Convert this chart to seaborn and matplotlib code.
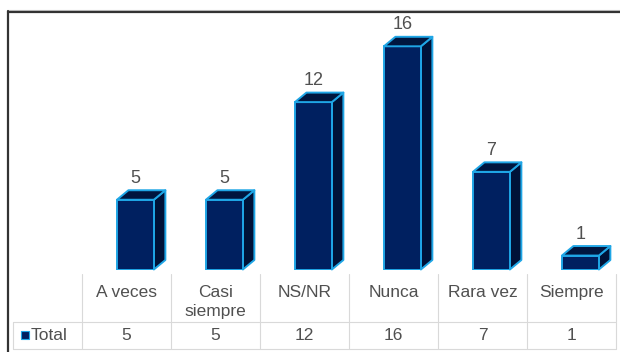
import matplotlib
matplotlib.use("Agg")
import matplotlib.pyplot as plt
from matplotlib.patches import Polygon, Rectangle
from matplotlib.lines import Line2D
import seaborn as sns
import pandas as pd

categories = ["A veces", "Casi\nsiempre", "NS/NR", "Nunca", "Rara vez", "Siempre"]
values = [5, 5, 12, 16, 7, 1]
series_name = "Total"

W, H = 620, 352
FRONT = "#002060"
SIDE = "#001238"
TOP = "#00163f"
EDGE = "#1fa6e6"
TEXT = "#505050"
GRID = "#d9d9d9"

sns.set_theme(style="white")
plt.rcParams["font.family"] = ["Liberation Sans", "DejaVu Sans"]

fig = plt.figure(figsize=(W / 100, H / 100), dpi=100)
fig.patch.set_facecolor("white")


def fx(px):
    return px / W


def fy(py):
    return 1 - py / H


# plot area: six table columns of 89 px starting at x=82, baseline at y=269.5
col_left, col_w = 82, 89
base_y, top_y = 269.5, 12
px_per_unit = 13.95
ax = fig.add_axes([fx(col_left), fy(base_y), (6 * col_w) / W, (base_y - top_y) / H])

df = pd.DataFrame({"cat": categories, "val": values})
sns.barplot(data=df, x="cat", y="val", ax=ax, color=FRONT, width=0.415,
            saturation=1, edgecolor=EDGE, linewidth=1.4, zorder=3)
ax.set_xlim(-0.6, 5.4)
ax.set_ylim(0, (base_y - top_y) / px_per_unit)
ax.axis("off")

# depth of the 3D boxes in data units
dx = 11.5 / col_w
dy = 9.5 / px_per_unit
for patch, v in zip(list(ax.patches), values):
    x0, w, h = patch.get_x(), patch.get_width(), patch.get_height()
    side = Polygon([(x0 + w, 0), (x0 + w + dx, dy), (x0 + w + dx, h + dy), (x0 + w, h)],
                   closed=True, facecolor=SIDE, edgecolor=EDGE, linewidth=1.4,
                   zorder=2, clip_on=False, joinstyle="round")
    top = Polygon([(x0, h), (x0 + w, h), (x0 + w + dx, h + dy), (x0 + dx, h + dy)],
                  closed=True, facecolor=TOP, edgecolor=EDGE, linewidth=1.4,
                  zorder=4, clip_on=False, joinstyle="round")
    ax.add_patch(side)
    ax.add_patch(top)
    ax.annotate(f"{v}", (x0 + w / 2, h + dy), xytext=(0, 2.5), textcoords="offset points",
                ha="center", va="bottom", fontsize=13, color=TEXT, zorder=5,
                annotation_clip=False)

# outer chart frame
fig.add_artist(Line2D([fx(8), fx(W)], [fy(10), fy(10)], color="#c8c8c8", lw=0.8))
fig.add_artist(Line2D([fx(8), fx(W + 2)], [fy(11.5), fy(11.5)], color="#333333", lw=1.6))
fig.add_artist(Line2D([fx(8), fx(8)], [fy(11), fy(H + 2)], color="#333333", lw=1.6))

# data table
right = col_left + 6 * col_w
row_top, row_mid, row_bot = 274, 322, 349
for k in range(7):
    xk = col_left + k * col_w
    fig.add_artist(Line2D([fx(xk), fx(xk)], [fy(row_top), fy(row_bot)], color=GRID, lw=0.8))
fig.add_artist(Line2D([fx(13), fx(13)], [fy(row_mid), fy(row_bot)], color=GRID, lw=0.8))
for yk in (row_mid, row_bot):
    fig.add_artist(Line2D([fx(13), fx(right)], [fy(yk), fy(yk)], color=GRID, lw=0.8))

for k, (c, v) in enumerate(zip(categories, values)):
    cx = col_left + (k + 0.5) * col_w
    fig.text(fx(cx), fy(285), c, ha="center", va="top", fontsize=12.5, color=TEXT,
             linespacing=1.3, multialignment="center")
    fig.text(fx(cx), fy(336), f"{v}", ha="center", va="center", fontsize=12.5, color=TEXT)

fig.add_artist(Rectangle((fx(20.5), fy(338.5)), 8 / W, 8 / H, transform=fig.transFigure,
                         facecolor=FRONT, edgecolor=EDGE, lw=0.8))
fig.text(fx(31), fy(336), series_name, ha="left", va="center", fontsize=12.5, color=TEXT)

fig.savefig("out.png", dpi=100, facecolor="white")
